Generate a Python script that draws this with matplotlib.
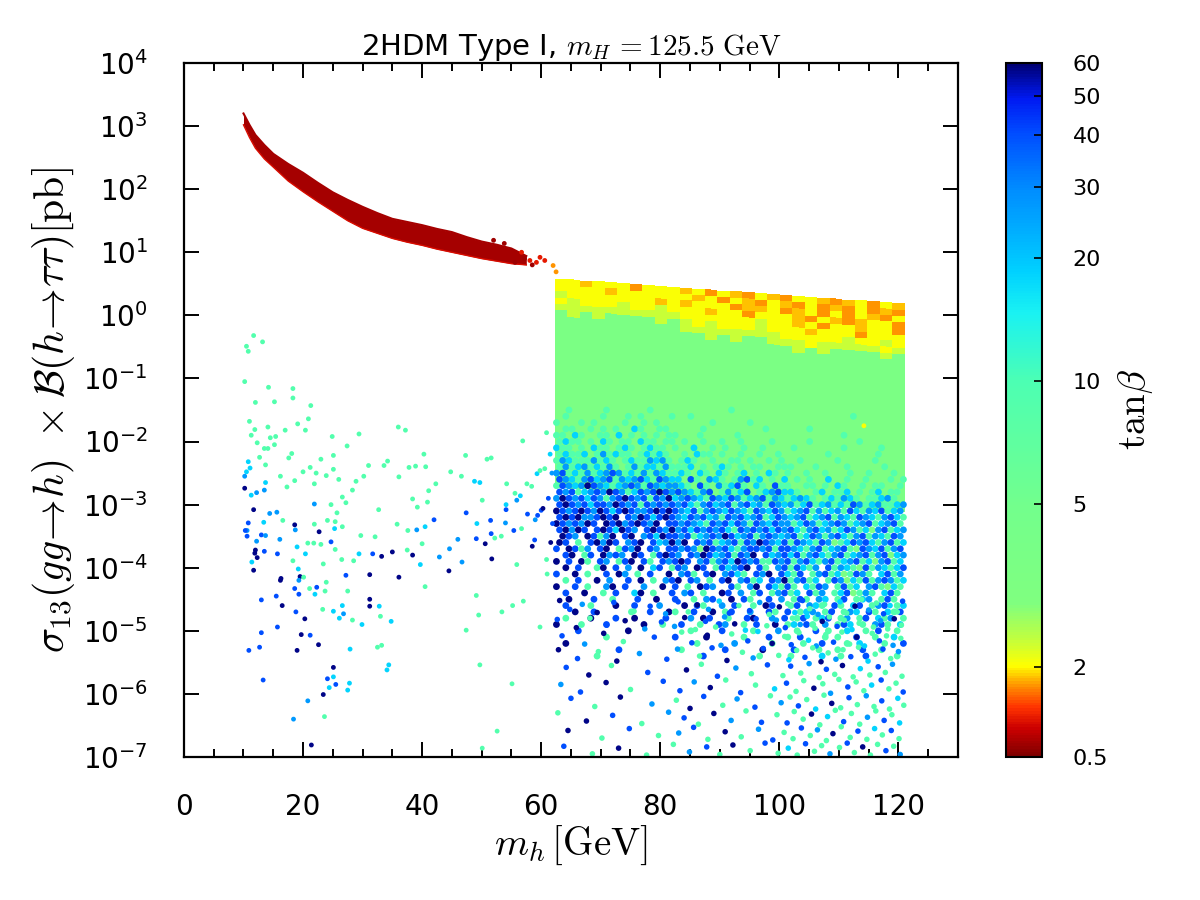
import numpy as np
import matplotlib
matplotlib.use('Agg')
import matplotlib.pyplot as plt
import matplotlib.colors as mcolors
import matplotlib.cm as cm
from matplotlib.ticker import MultipleLocator, NullLocator

plt.rcParams['mathtext.fontset'] = 'cm'
plt.rcParams['font.family'] = ['DejaVu Sans']

# colour axis: tan(beta) ticks and where they sit along the colour bar (0 = bottom, 1 = top)
cb_ticks = [0.5, 2, 5, 10, 20, 30, 40, 50, 60]
cb_labels = ['0.5', '2', '5', '10', '20', '30', '40', '50', '60']
cb_tick_frac = [0.0, 0.130, 0.364, 0.542, 0.719, 0.822, 0.896, 0.953, 1.0]

# tan(beta) value behind each colour letter used in the tables below
tb_code = {'r': 0.6, 'R': 0.9, 'o': 1.5, 'a': 1.7, 'y': 2.05, 'l': 2.3, 'g': 3.5,
           't': 9.0, 'c': 18.0, 's': 27.0, 'b': 40.0, 'n': 58.0}

# low tan(beta) branch below m_h = 62 GeV: edges of the red band (log10 sigma x BR / pb)
band_mh = [10, 11, 12, 13.5, 15, 17.5, 20, 22.5, 25, 27.5, 30, 32.5, 35, 37.5,
           40, 42.5, 45, 47.5, 50, 52.5, 55, 57.5]
band_lo = [3.02, 2.82, 2.65, 2.48, 2.35, 2.13, 1.96, 1.80, 1.65, 1.50, 1.38, 1.30,
           1.22, 1.16, 1.11, 1.05, 1.00, 0.95, 0.90, 0.86, 0.82, 0.80]
band_hi = [3.20, 3.02, 2.86, 2.70, 2.56, 2.40, 2.26, 2.10, 1.95, 1.83, 1.72, 1.62,
           1.53, 1.48, 1.43, 1.37, 1.32, 1.24, 1.17, 1.12, 1.06, 0.94]
band_tb = 0.62

# dense region m_h = 62.3 ... 121.1 GeV: column edges and upper boundary (log10 sigma)
block_x = [62.3, 64.4, 66.5, 68.6, 70.7, 72.8, 74.9, 77.0, 79.1, 81.2, 83.3, 85.4,
           87.5, 89.6, 91.7, 93.8, 95.9, 98.0, 100.1, 102.2, 104.3, 106.4, 108.5,
           110.6, 112.7, 114.8, 116.9, 119.0, 121.1]
block_top = [0.58, 0.57, 0.55, 0.54, 0.53, 0.51, 0.49, 0.48, 0.47, 0.45, 0.44, 0.42,
             0.41, 0.39, 0.38, 0.37, 0.35, 0.34, 0.32, 0.31, 0.29, 0.28, 0.27,
             0.25, 0.24, 0.22, 0.21, 0.19, 0.18]
# depth below the upper boundary (decades) of each row of cells
block_depth = [0.0, 0.1, 0.2, 0.3, 0.4, 0.5, 0.6, 0.7, 0.8, 0.9, 3.3]
block_rows = [
    "yyayyyoyyy" + "ayoyaoya" + "oyyaoayoya",
    "yyyyayyyyy" + "yayoyaoy" + "aoyoaoyoao",
    "lyyyyyyyay" + "ayyyoaay" + "oayoyoyaoy",
    "ylyyylyyly" + "yyayyoyy" + "yaoyaoayyo",
    "llllllllll" + "yyyyyyly" + "yayoyyayyo",
    "glglgggglg" + "lylyyyly" + "yyayyyoyyy",
    "gggggggggg" + "llllllll" + "yyyyylyyly",
    "gggggggggg" + "gglglggl" + "llylllllyl",
    "gggggggggg" + "gggggggg" + "glglgggglg",
    "g" * 28,
]

# speckled part of the dense region, rows of 0.1 decade from log10 sigma = -1.5 down
speck_top = -1.5
speck_rows = [
    "..t.....t......t..." + ".........t........" + "...................",
    ".t.....t...t.t....t" + "..t..............." + "..........t........",
    "t...t.t....t..t.t.." + "......t.....t....." + "...................",
    ".tt..t.t.t..ct..tt." + "....t.........t..." + "...t...............",
    "tt.ct..tt.c.t.t.t.t" + "t...t.....t......." + ".........t.........",
    "tctt.t.ct.tt.ctt.tt" + ".t..t..t..t....t.." + "...t.......t.......",
    "ctt.t.ctt.tct.tctt." + "t..c..t.t..t..t..." + ".t.......t.....t...",
    "tcttc.tstctt.tctct." + ".t.ctt.t..t..t..t." + "......t.......t....",
    "tsctttstct.tcttscst" + ".tct..t..tt.t..t.t" + "..t.....t.....t....",
    "tstcstctst.tstcctst" + "ttc.t.tct.t.tt..tt" + "t...t....t.....t...",
    "sbtctstcsbstctstsct" + "tct.ct.ct.tc.t.ct." + "t..t..t...t..t...t.",
    "bsctsbcsbtscsbctbsc" + "c.bt.sct.tsbtc.t.c" + ".t.t..c..t..t...t.t",
    "tbscsnbsctcsbstbscs" + "sct.bt.stcbt.ct.bt" + "t..tt.t.ct..t.tt..t",
    "bsbtcsbsnbstcbsbnbs" + "bsctsb.tstcb.tcsbc" + "ct..tc.ttc.t.tc.tt.",
    "snbsbcbstsbnbsbtbsn" + "csbsctbscbstcsbtsc" + "tcsct.tctsct.ttcst.",
    "bnbsbcbbsnbsbtbsbsb" + "sbctsbcsbtsbcstbsc" + "stcbtcstctbstcsttcs",
    "nbsbnbsnbcbnbssbnbn" + "bscbtsbscbsctbscbs" + "tcsbtstcstbctscbtcs",
    "bnbnssbnbn.bsnbcbnb" + "scbsbcstbsbcsbtcbs" + "csbtcsbtsctbsctsbct",
    "nbsbsnb.nbnsbnbsn.b" + "bsbsctbsbcbstbscbs" + "stcbstcsbstcsbtcsbt",
    "bnsnb.bnbcnbs.bnbsn" + "sbcbsbsbctbsbsbcbs" + "bctsbcstcbstcgsbtcs",
    ".nbs.nbtsn.bn.sbcnb" + "bsbtcsbsnbcsbtsbsc" + "sbtcbstsbctsbtsctbs",
    "nb.t.bnsnb.sbn.bcsn" + "sn.bsbtcsbtbsnbscb" + "tbsctbsgtcbsbctsbtc",
    "b.nbts.bn.tbsn.bs.b" + "bsbsgnbsbctsbbsbtb" + "bsctsbtcsbtgbscbtsb",
    ".bn.tb.nsbs.nb.tbnb" + "s.bsnbcsbtbsn.bcsb" + "cbtsbctsbtcsbtsbgcs",
    "n.b.nt.bs.tbn.bt.bs" + "bnb.sbtsbcnbsbttbs" + "btsbctsbtcsbtcgsbtc",
    ".n.b..tn.b.s.n.cb.t" + "bs.nb.tbcsbn.bt.sb" + "tbcts.btsctgbtsctcb",
    "b..n.t..b.ns.t.b..n" + ".sbt.bn.sbct.bsn.b" + "ctb.tsbtcgtbst.cbts",
    ".t.b..n.s..b.n.t.sb" + "n.bs.t.bn.sbtc.bsn" + "tsbtc.tbsgctbtsbstc",
    "n..b.t..sn.b..s..n." + "b.t.nbs..bt.sn.bct" + "bt.ctbs.tbtc.sbtgct",
    ".b..n..t.b..cn.t..b" + ".sb.t..nb.s.tb.tsb" + "tc.bts.tcbgtst.cbt.",
    "..n...b..t...b..n.." + "b..t.sb..n.bt..b.s" + ".tbt.sc.tb.tcs.tbt.",
    ".b...t...n..b...s.." + ".n.bt..s.b..t.nb.." + "tb.sct.bt.cb.tsb.tc",
    "...n..b.....t..b..n" + "t..b..n.tb..s..bt." + "b.tcs.tb.tsc.bt.ctb",
    ".t...n...b..n....b." + "..s.nb..t..bn..s.b" + ".tb.tcb.ts.tb.cts.t",
    "n...t...b.....n..t." + ".b..t..bs..t.b..n." + "tc.bt.s.tbc.t.sbt.c",
    "...b.......n......." + "..t....b....t...s." + ".t..b.t..c..t.b..t.",
    "........t.........." + "b....n.....t...b.." + "t.b...t.t..b..t..c.",
    ".n................." + "...t.....s.....t.." + "..t..b...t.c...t..b",
    "..........b........" + ".t......b.....n..." + ".b...t..t...b..t...",
    "......t............" + "....b........t...." + "t....c..t...b....t.",
]

# isolated points: (m_h / GeV, log10 sigma, colour letter)
sparse_pts = [
    # below m_h = 62 GeV
    (11.7, -0.32, 't'), (10.5, -0.49, 't'), (10.8, -0.57, 't'), (13.2, -0.42, 't'),
    (10.2, -1.05, 't'), (14.2, -1.14, 't'), (18.3, -1.16, 't'), (18.3, -1.31, 't'),
    (12.0, -1.38, 't'), (15.2, -1.37, 't'), (21.3, -1.43, 't'), (11.0, -1.68, 't'),
    (19.1, -1.72, 't'), (20.9, -1.64, 't'), (20.4, -1.82, 't'), (14.1, -1.77, 't'),
    (11.9, -1.81, 't'), (11.3, -1.90, 't'), (14.5, -1.94, 't'), (15.4, -1.92, 't'),
    (17.0, -1.82, 't'), (12.3, -2.02, 't'), (24.9, -1.92, 't'), (29.4, -1.88, 't'),
    (36.0, -1.77, 't'), (37.2, -1.82, 't'), (12.7, -2.25, 't'), (13.5, -2.11, 't'),
    (14.1, -2.11, 't'), (15.2, -2.05, 't'), (27.4, -2.07, 't'), (18.1, -2.19, 't'),
    (17.6, -2.26, 't'), (10.8, -2.32, 'c'), (13.7, -2.37, 't'), (11.1, -2.42, 'c'),
    (10.5, -2.48, 'c'), (10.2, -2.55, 's'), (12.2, -2.81, 's'), (13.5, -2.77, 's'),
    (13.7, -2.65, 'c'), (16.2, -2.55, 't'), (17.3, -2.72, 't'), (18.6, -2.62, 't'),
    (20.0, -2.48, 't'), (21.2, -2.41, 't'), (22.2, -2.50, 't'), (21.9, -2.67, 't'),
    (23.9, -2.54, 't'), (25.1, -2.44, 't'), (23.0, -2.28, 't'), (25.1, -2.22, 't'),
    (26.0, -2.60, 't'), (28.3, -2.77, 't'), (28.9, -2.63, 't'), (31.0, -2.38, 't'),
    (33.6, -2.38, 't'), (34.2, -2.31, 't'), (30.2, -2.55, 't'), (26.6, -2.88, 't'),
    (27.2, -2.97, 't'), (24.7, -3.00, 't'), (25.7, -3.13, 't'), (24.1, -3.25, 't'),
    (25.4, -3.27, 't'), (26.6, -3.35, 't'), (10.2, -2.74, 'n'), (11.7, -3.08, 'n'),
    (10.8, -3.29, 'b'), (10.6, -3.41, 's'), (10.6, -3.50, 'b'), (13.0, -3.48, 'b'),
    (13.7, -3.49, 's'), (12.0, -3.72, 'n'), (11.9, -3.77, 'n'), (12.3, -3.84, 'n'),
    (11.7, -4.04, 'n'), (13.5, -3.74, 'b'), (11.4, -3.91, 'c'), (12.2, -3.58, 's'),
    (15.7, -3.78, 'b'), (16.1, -3.55, 's'), (15.6, -3.12, 's'), (18.6, -3.32, 'n'),
    (18.7, -3.40, 's'), (16.3, -4.17, 'n'), (16.2, -4.20, 'n'), (18.6, -4.33, 'b'),
    (19.3, -4.42, 'b'), (18.8, -4.70, 'b'), (20.3, -4.81, 'n'), (19.5, -4.14, 'n'),
    (19.3, -4.20, 's'), (16.5, -4.60, 'n'), (13.0, -4.51, 'b'), (15.5, -4.45, 'b'),
    (13.0, -5.03, 'b'), (12.7, -5.26, 'b'), (10.9, -5.31, 'b'), (15.7, -4.94, 'b'),
    (19.7, -5.06, 'n'), (21.2, -5.07, 'b'), (19.0, -5.31, 'n'), (22.6, -5.22, 'n'),
    (13.3, -5.78, 'b'), (20.8, -6.11, 's'), (18.4, -6.40, 's'), (23.4, -6.01, 'n'),
    (24.1, -5.76, 'b'), (25.1, -5.58, 'n'), (25.5, -5.85, 'b'), (25.1, -5.73, 'c'),
    (24.4, -5.90, 'c'), (27.5, -5.94, 'c'), (27.8, -5.83, 'c'), (23.6, -6.36, 't'),
    (21.4, -6.81, 'n'), (27.9, -5.29, 'c'), (25.1, -4.69, 'c'), (26.1, -4.80, 'c'),
    (26.8, -4.73, 's'), (22.7, -3.43, 'n'), (21.9, -2.99, 's'), (24.7, -3.59, 'b'),
    (25.3, -3.38, 'c'), (27.2, -4.12, 'b'), (31.2, -4.11, 'n'), (31.2, -4.50, 'n'),
    (31.2, -4.61, 'n'), (32.8, -4.61, 'c'), (33.0, -4.77, 't'), (34.8, -4.85, 'c'),
    (32.5, -5.26, 't'), (33.2, -5.23, 't'), (34.4, -5.54, 'c'), (34.1, -5.62, 'c'),
    (29.9, -4.90, 'c'), (28.3, -4.83, 't'), (31.7, -3.78, 'b'), (33.2, -3.82, 'n'),
    (35.0, -3.75, 'n'), (36.1, -4.15, 'n'), (38.4, -3.80, 'n'), (39.1, -3.40, 's'),
    (40.5, -3.35, 'c'), (42.0, -3.24, 'b'), (42.9, -3.83, 's'), (44.5, -4.05, 'n'),
    (44.6, -3.70, 's'), (46.0, -3.55, 's'), (46.7, -3.91, 's'), (47.4, -3.13, 'b'),
    (49.1, -3.54, 'b'), (49.2, -3.30, 'c'), (50.6, -3.62, 'n'), (51.7, -3.86, 'n'),
    (51.5, -3.25, 'b'), (51.6, -3.46, 'b'), (54.0, -3.29, 's'), (54.1, -3.08, 'b'),
    (54.1, -3.00, 'c'), (55.4, -3.41, 'b'), (55.9, -2.93, 's'), (56.5, -2.86, 'c'),
    (57.7, -3.15, 'b'), (58.5, -3.66, 'n'), (58.9, -3.56, 'b'), (59.0, -3.24, 's'),
    (59.4, -3.17, 'b'), (60.0, -3.09, 'b'), (60.3, -3.06, 'n'), (36.1, -2.56, 't'),
    (37.8, -2.41, 't'), (38.9, -2.39, 't'), (40.6, -2.40, 't'), (40.3, -2.20, 't'),
    (42.3, -2.67, 't'), (41.1, -2.78, 't'), (44.8, -2.48, 't'), (46.6, -2.55, 't'),
    (47.3, -2.22, 't'), (48.8, -2.63, 'c'), (49.7, -2.65, 'c'), (50.9, -2.28, 't'),
    (51.6, -2.26, 't'), (50.1, -2.93, 't'), (52.2, -3.53, 't'), (53.3, -3.50, 't'),
    (54.2, -2.67, 't'), (55.6, -2.82, 't'), (57.6, -2.67, 't'), (58.4, -2.71, 't'),
    (59.3, -2.51, 'c'), (59.8, -2.46, 't'), (60.6, -2.43, 't'), (60.9, -1.86, 't'),
    (56.9, -1.99, 't'), (56.7, -3.38, 't'), (55.9, -3.95, 't'), (60.9, -3.87, 't'),
    (59.8, -4.94, 't'), (57.0, -4.53, 't'), (55.2, -4.60, 't'), (53.4, -4.70, 't'),
    (49.5, -4.75, 't'), (47.4, -4.99, 't'), (49.1, -4.44, 't'), (49.7, -5.54, 't'),
    (55.1, -5.84, 't'), (52.6, -6.59, 't'), (50.1, -6.86, 't'), (40.5, -4.30, 't'),
    (40.0, -3.62, 't'), (39.7, -3.95, 'c'), (37.5, -3.72, 't'), (37.6, -3.41, 't'),
    (38.4, -2.91, 't'), (39.2, -3.04, 't'), (40.9, -2.96, 't'), (35.8, -3.31, 't'),
    (32.7, -3.08, 't'), (32.1, -3.51, 't'), (29.7, -3.49, 't'), (28.5, -3.89, 't'),
    (29.4, -3.78, 'c'), (26.5, -3.87, 't'), (25.4, -3.71, 't'), (23.4, -3.94, 't'),
    (23.9, -4.23, 't'), (23.7, -4.37, 't'), (23.3, -4.66, 't'), (22.0, -4.42, 'c'),
    (22.3, -4.31, 'b'), (21.1, -4.33, 't'), (20.1, -4.15, 't'), (19.2, -4.02, 'c'),
    (18.3, -3.89, 't'), (19.0, -3.67, 'c'), (20.8, -3.61, 't'), (20.4, -3.78, 'c'),
    (21.8, -3.61, 't'), (23.0, -3.63, 't'), (21.9, -3.31, 't'), (27.5, -4.37, 't'),
    (26.6, -4.60, 'c'), (11.3, -2.85, 'c'), (10.3, -3.41, 'b'), (13.4, -3.28, 'c'),
    (14.4, -3.14, 's'), (16.6, -3.25, 't'), (61.5, -2.20, 'c'), (61.8, -2.50, 's'),
    (61.2, -2.90, 'b'), (61.9, -3.30, 'b'), (61.6, -3.60, 'n'), (61.0, -4.10, 't'),
    # end of the red band
    (56.7, 1.00, 'R'), (55.6, 0.84, 'r'), (58.1, 0.87, 'R'), (59.2, 0.84, 'R'),
    (59.8, 0.92, 'R'), (60.6, 0.87, 'R'), (62.0, 0.79, 'o'), (62.5, 0.69, 'o'),
    (58.5, 0.80, 'r'), (57.2, 0.90, 'r'), (53.8, 1.14, 'r'), (52.0, 1.19, 'r'),
    # inside the dense region
    (114.2, -1.75, 'y'),
]

# sparse tail of the dense region, log10 sigma below -4.5
tail_pts = [
    (63.1, -4.52, 'n'), (64.8, -4.66, 'b'), (66.9, -4.58, 's'), (69.4, -4.71, 'n'),
    (72.2, -4.55, 'b'), (75.6, -4.69, 't'), (78.3, -4.61, 'b'), (80.9, -4.73, 's'),
    (83.0, -4.54, 'b'), (84.7, -4.70, 't'), (86.2, -4.59, 'n'), (88.1, -4.66, 's'),
    (89.9, -4.53, 'c'), (91.6, -4.72, 'b'), (93.2, -4.60, 't'), (95.0, -4.68, 'b'),
    (96.7, -4.55, 's'), (98.3, -4.74, 't'), (100.0, -4.62, 'n'), (101.4, -4.57, 't'),
    (102.6, -4.71, 'c'), (103.9, -4.52, 'b'), (105.1, -4.65, 't'), (106.5, -4.74, 's'),
    (107.6, -4.58, 't'), (108.9, -4.69, 'b'), (110.2, -4.54, 'c'), (111.3, -4.72, 't'),
    (112.7, -4.61, 'n'), (113.8, -4.50, 't'), (115.0, -4.67, 's'), (116.3, -4.56, 't'),
    (117.5, -4.73, 'b'), (118.6, -4.60, 'c'), (119.8, -4.70, 't'), (120.7, -4.53, 'b'),
    (62.7, -4.82, 'b'), (65.9, -4.95, 'n'), (68.2, -4.80, 't'), (71.0, -4.91, 'b'),
    (74.1, -4.84, 'n'), (77.4, -4.97, 's'), (80.2, -4.86, 'b'), (82.4, -4.93, 's'),
    (84.1, -4.79, 'n'), (85.9, -4.98, 't'), (87.6, -4.85, 'b'), (89.3, -4.94, 't'),
    (90.8, -4.78, 's'), (92.5, -4.89, 'n'), (94.3, -4.99, 'c'), (96.1, -4.81, 'b'),
    (97.9, -4.92, 't'), (99.5, -4.83, 's'), (101.0, -4.95, 'b'), (102.2, -4.80, 't'),
    (103.5, -4.90, 's'), (104.7, -4.77, 'c'), (106.0, -4.96, 't'), (107.2, -4.85, 'n'),
    (108.4, -4.78, 't'), (109.7, -4.93, 'b'), (110.9, -4.83, 't'), (112.2, -4.98, 'c'),
    (113.4, -4.88, 't'), (114.5, -4.79, 'b'), (115.8, -4.94, 't'), (117.0, -4.84, 's'),
    (118.2, -4.97, 't'), (119.3, -4.81, 'n'), (120.5, -4.91, 't'),
    (63.5, -5.08, 'b'), (67.3, -5.21, 's'), (70.5, -5.04, 'n'), (73.8, -5.17, 't'),
    (79.0, -5.10, 'b'), (83.6, -5.02, 't'), (85.3, -5.19, 'b'), (87.9, -5.07, 'n'),
    (90.2, -5.23, 's'), (92.0, -5.05, 't'), (94.7, -5.16, 'b'), (96.4, -5.01, 'c'),
    (98.8, -5.20, 'n'), (100.9, -5.09, 't'), (102.0, -5.22, 'b'), (103.3, -5.03, 't'),
    (104.9, -5.15, 'c'), (106.2, -5.24, 's'), (107.8, -5.06, 't'), (109.1, -5.18, 'b'),
    (110.5, -5.02, 't'), (111.8, -5.21, 't'), (113.0, -5.10, 'n'), (114.3, -5.24, 'c'),
    (115.6, -5.04, 't'), (116.8, -5.16, 'b'), (118.0, -5.08, 't'), (119.1, -5.23, 's'),
    (120.4, -5.12, 't'),
    (62.9, -5.30, 'n'), (66.1, -5.44, 'b'), (69.6, -5.33, 't'), (72.7, -5.48, 'n'),
    (76.5, -5.36, 's'), (81.1, -5.45, 'b'), (82.9, -5.29, 's'), (86.6, -5.40, 't'),
    (88.7, -5.27, 'b'), (91.2, -5.47, 'n'), (93.8, -5.34, 't'), (95.6, -5.43, 's'),
    (97.3, -5.28, 'b'), (99.9, -5.39, 't'), (101.6, -5.46, 'c'), (102.9, -5.31, 't'),
    (104.3, -5.42, 'b'), (105.6, -5.27, 't'), (107.0, -5.49, 'n'), (108.2, -5.35, 't'),
    (109.5, -5.45, 's'), (110.7, -5.30, 't'), (112.0, -5.41, 'b'), (113.3, -5.26, 't'),
    (114.9, -5.48, 'c'), (116.1, -5.37, 't'), (117.4, -5.29, 'b'), (118.7, -5.44, 't'),
    (120.0, -5.33, 's'),
    (64.2, -5.58, 'b'), (68.0, -5.70, 'n'), (71.8, -5.55, 't'), (77.9, -5.66, 'b'),
    (84.4, -5.62, 'n'), (86.9, -5.53, 't'), (89.6, -5.72, 'b'), (92.7, -5.59, 's'),
    (95.3, -5.68, 't'), (98.0, -5.54, 'b'), (100.6, -5.71, 't'), (101.9, -5.56, 'b'),
    (103.6, -5.67, 't'), (105.0, -5.52, 's'), (106.7, -5.74, 't'), (107.9, -5.61, 'b'),
    (109.3, -5.69, 't'), (110.6, -5.55, 'n'), (112.4, -5.73, 't'), (113.6, -5.60, 'c'),
    (115.2, -5.70, 't'), (116.6, -5.57, 'b'), (117.8, -5.66, 't'), (119.0, -5.53, 's'),
    (120.6, -5.72, 't'),
    (63.3, -5.85, 's'), (66.6, -5.97, 'b'), (70.9, -5.82, 'n'), (75.0, -5.93, 't'),
    (80.5, -5.80, 'b'), (83.3, -5.95, 'b'), (85.7, -5.81, 's'), (88.4, -5.90, 'n'),
    (91.0, -5.78, 't'), (93.5, -5.98, 'b'), (96.0, -5.86, 't'), (99.2, -5.92, 'c'),
    (101.2, -5.83, 'b'), (102.8, -5.96, 't'), (104.1, -5.79, 't'), (105.8, -5.91, 'n'),
    (107.3, -5.84, 't'), (108.6, -5.99, 's'), (110.0, -5.77, 't'), (111.5, -5.89, 'b'),
    (112.9, -5.81, 't'), (114.2, -5.95, 't'), (115.5, -5.86, 'c'), (117.1, -5.78, 'b'),
    (118.4, -5.92, 't'), (119.6, -5.83, 't'), (120.8, -5.97, 'b'),
    (65.0, -6.07, 'b'), (69.0, -6.20, 't'), (73.3, -6.05, 'n'), (78.6, -6.16, 's'),
    (82.7, -6.10, 't'), (85.0, -6.23, 'n'), (87.3, -6.04, 'b'), (90.5, -6.18, 't'),
    (92.9, -6.08, 's'), (95.9, -6.21, 'b'), (98.5, -6.03, 't'), (100.3, -6.14, 's'),
    (101.8, -6.05, 't'), (103.2, -6.19, 'b'), (104.6, -6.09, 't'), (106.1, -6.24, 'c'),
    (107.5, -6.02, 't'), (108.8, -6.15, 'n'), (110.3, -6.22, 't'), (111.7, -6.06, 'b'),
    (113.1, -6.17, 't'), (114.6, -6.03, 's'), (115.9, -6.20, 't'), (117.2, -6.11, 'b'),
    (118.5, -6.24, 't'), (119.9, -6.07, 'c'), (120.9, -6.18, 't'),
    (62.8, -6.30, 't'), (67.6, -6.43, 'n'), (72.0, -6.34, 'b'), (76.9, -6.47, 't'),
    (81.4, -6.29, 's'), (84.0, -6.38, 'b'), (86.4, -6.48, 't'), (89.0, -6.31, 'n'),
    (91.9, -6.42, 's'), (94.4, -6.27, 't'), (97.0, -6.45, 'b'), (99.6, -6.33, 't'),
    (101.3, -6.46, 'b'), (102.5, -6.28, 't'), (104.0, -6.40, 't'), (105.4, -6.32, 'n'),
    (106.8, -6.49, 't'), (108.1, -6.36, 'c'), (109.4, -6.26, 't'), (110.8, -6.44, 'b'),
    (112.1, -6.31, 't'), (113.5, -6.48, 't'), (114.8, -6.37, 's'), (116.2, -6.27, 't'),
    (117.6, -6.42, 'b'), (118.9, -6.33, 't'), (120.2, -6.46, 'c'),
    (64.5, -6.58, 'n'), (70.2, -6.70, 't'), (74.8, -6.55, 'b'), (79.7, -6.66, 't'),
    (83.1, -6.62, 's'), (85.6, -6.53, 'b'), (88.0, -6.72, 't'), (90.9, -6.60, 'n'),
    (93.6, -6.68, 't'), (96.5, -6.56, 's'), (98.9, -6.73, 'b'), (100.8, -6.61, 't'),
    (102.3, -6.71, 't'), (103.7, -6.54, 'b'), (105.2, -6.66, 't'), (106.4, -6.57, 's'),
    (107.9, -6.74, 't'), (109.0, -6.63, 'n'), (110.4, -6.52, 't'), (111.9, -6.69, 't'),
    (113.2, -6.59, 'b'), (114.7, -6.72, 't'), (116.0, -6.55, 'c'), (117.3, -6.65, 't'),
    (118.8, -6.58, 'b'), (120.1, -6.71, 't'),
    (63.8, -6.83, 'b'), (68.6, -6.95, 't'), (73.0, -6.86, 'n'), (77.7, -6.97, 't'),
    (82.2, -6.80, 't'), (84.9, -6.92, 's'), (87.8, -6.84, 'b'), (90.0, -6.96, 't'),
    (92.2, -6.81, 'n'), (95.1, -6.90, 't'), (97.6, -6.78, 'b'), (99.8, -6.94, 't'),
    (101.5, -6.86, 'c'), (103.0, -6.97, 't'), (104.4, -6.79, 'b'), (105.9, -6.91, 't'),
    (107.1, -6.82, 't'), (108.5, -6.95, 's'), (110.1, -6.85, 't'), (111.4, -6.78, 'b'),
    (112.6, -6.93, 't'), (114.0, -6.84, 'n'), (115.3, -6.97, 't'), (116.5, -6.80, 't'),
    (117.9, -6.90, 'b'), (119.2, -6.83, 't'), (120.3, -6.96, 's'),
]


def tb_forward(t):
    t = np.maximum(np.asarray(t, dtype=float), 1e-3)
    return np.interp(np.log10(t), np.log10(cb_ticks), cb_tick_frac)


def tb_inverse(f):
    return 10 ** np.interp(np.asarray(f, dtype=float), cb_tick_frac, np.log10(cb_ticks))


norm = mcolors.FuncNorm((tb_forward, tb_inverse), vmin=0.5, vmax=60)
cmap = mcolors.LinearSegmentedColormap.from_list('tanb', [
    (0.00, (0.50, 0.00, 0.00)), (0.04, (0.80, 0.00, 0.00)), (0.07, (1.00, 0.20, 0.00)),
    (0.10, (1.00, 0.55, 0.00)), (0.13, (1.00, 1.00, 0.00)), (0.17, (0.75, 1.00, 0.25)),
    (0.22, (0.50, 1.00, 0.50)), (0.36, (0.45, 1.00, 0.55)), (0.54, (0.30, 1.00, 0.70)),
    (0.64, (0.10, 0.95, 0.95)), (0.70, (0.00, 0.82, 1.00)), (0.76, (0.00, 0.68, 1.00)),
    (0.82, (0.00, 0.55, 1.00)), (0.90, (0.00, 0.30, 1.00)), (0.95, (0.00, 0.10, 0.95)),
    (1.00, (0.00, 0.00, 0.45))])

fig = plt.figure(figsize=(12, 9), dpi=100)
ax = fig.add_axes([0.1533, 0.1589, 0.645, 0.7711])

# red band (low tan beta)
band_col = cmap(norm(band_tb))
lo = 10.0 ** np.array(band_lo)
hi = 10.0 ** np.array(band_hi)
ax.fill_between(band_mh, lo, hi, color=band_col, lw=0, zorder=3)
ax.plot(band_mh, lo, color=cmap(norm(0.85)), lw=1.0, zorder=3)
ax.plot(band_mh, hi, color=band_col, lw=1.5, zorder=3)

# solid part of the dense region as cells hanging below the upper boundary
bx = np.array(block_x)
btop = np.array(block_top)
X = np.tile(bx, (len(block_depth), 1))
Y = 10.0 ** (btop[None, :] - np.array(block_depth)[:, None])
C = np.array([[tb_code[ch] for ch in row.ljust(len(bx) - 1, 'g')[:len(bx) - 1]]
              for row in block_rows])
ax.pcolormesh(X, Y, C, cmap=cmap, norm=norm, shading='flat', lw=0,
              antialiased=False, rasterized=True, zorder=1)

# speckled points, staggered rows
dx = (block_x[-1] - block_x[0]) / 56
sx, sy, sc = [], [], []
for i, row in enumerate(speck_rows):
    shift = 0.5 * dx if i % 2 else 0.0
    for j, ch in enumerate(row):
        if ch == '.':
            continue
        sx.append(block_x[0] + dx * (j + 0.25) + shift)
        sy.append(10.0 ** (speck_top - 0.1 * i))
        sc.append(tb_code[ch])
ax.scatter(sx, sy, c=sc, cmap=cmap, norm=norm, s=24, lw=0, zorder=2)

t_mh, t_ls, t_code = zip(*tail_pts)
ax.scatter(t_mh, 10.0 ** np.array(t_ls), c=[tb_code[k] for k in t_code],
           cmap=cmap, norm=norm, s=16, lw=0, zorder=2)

p_mh, p_ls, p_code = zip(*sparse_pts)
ax.scatter(p_mh, 10.0 ** np.array(p_ls), c=[tb_code[k] for k in p_code],
           cmap=cmap, norm=norm, s=12, lw=0, zorder=4)

ax.set_xlim(0, 130)
ax.set_yscale('log')
ax.set_ylim(1e-7, 1e4)
ax.xaxis.set_major_locator(MultipleLocator(20))
ax.xaxis.set_minor_locator(MultipleLocator(5))
exps = list(range(-7, 5))
ax.set_yticks([10.0 ** e for e in exps],
              labels=[r'$\mathregular{10^{%d}}$' % e for e in exps])
ax.yaxis.set_minor_locator(NullLocator())
ax.tick_params(which='both', direction='in', top=True, right=True, width=1.4)
ax.tick_params(which='major', length=11, labelsize=20, pad=26)
ax.tick_params(which='minor', length=6)
for sp in ax.spines.values():
    sp.set_linewidth(1.6)

ax.set_xlabel(r'$m_h\,[\mathrm{GeV}]$', fontsize=28, labelpad=2)
ax.set_ylabel(r'$\sigma_{13}(gg\!\to\! h)\ \times\mathcal{B}(h\!\to\!\tau\tau)[\mathrm{pb}]$',
              fontsize=30, labelpad=4)
ax.set_title(r'2HDM Type I, $m_H\,{=}125.5\ \mathrm{GeV}$', fontsize=21, pad=6)

cax = fig.add_axes([0.8383, 0.1589, 0.030, 0.7711])
sm = cm.ScalarMappable(norm=norm, cmap=cmap)
cb = fig.colorbar(sm, cax=cax)
cb.set_ticks(cb_ticks)
cb.ax.set_yticklabels(cb_labels)
cb.ax.yaxis.set_minor_locator(NullLocator())
cb.ax.tick_params(direction='in', length=6, width=1.2, labelsize=16, pad=22)
cb.outline.set_linewidth(1.5)
cb.set_label(r'$\mathrm{tan}\beta$', fontsize=28, labelpad=6)

fig.savefig('out.png', dpi=100)
